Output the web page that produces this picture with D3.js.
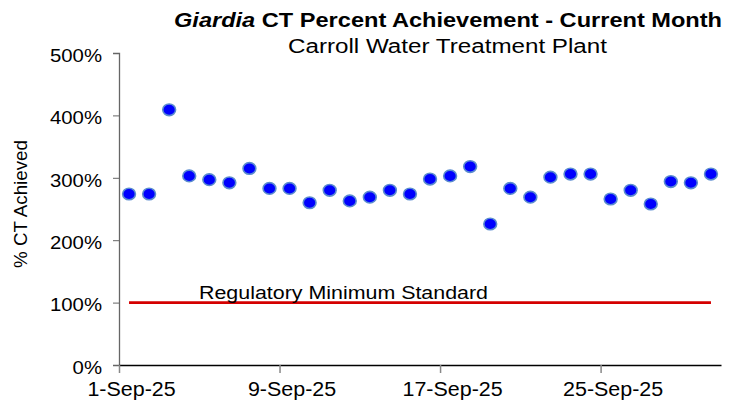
<!DOCTYPE html>
<html>
<head>
<meta charset="utf-8">
<script src="https://cdn.jsdelivr.net/npm/d3@7"></script>
<style>
  body { margin: 0; background: #fff; }
  svg { display: block; font-family: "Liberation Sans", Arial, sans-serif; }
</style>
</head>
<body>
<svg id="chart" width="739" height="402"></svg>
<script>
const dates = ["2025-09-01","2025-09-02","2025-09-03","2025-09-04","2025-09-05","2025-09-06","2025-09-07","2025-09-08","2025-09-09","2025-09-10",
  "2025-09-11","2025-09-12","2025-09-13","2025-09-14","2025-09-15","2025-09-16","2025-09-17","2025-09-18","2025-09-19","2025-09-20",
  "2025-09-21","2025-09-22","2025-09-23","2025-09-24","2025-09-25","2025-09-26","2025-09-27","2025-09-28","2025-09-29","2025-09-30"];
const ctPercent = [274, 274, 409, 303, 297, 292, 315, 283, 283, 260,
  280, 263, 269, 280, 274, 298, 303, 318, 226, 283,
  269, 301, 306, 306, 266, 280, 258, 294, 292, 306];
const regulatoryMinimum = 100;
const yTicks = [0, 100, 200, 300, 400, 500];
const xTickDates = ["2025-09-01","2025-09-09","2025-09-17","2025-09-25"];
const titleItalic = "Giardia";
const titleRest = " CT Percent Achievement - Current Month";
const subtitle = "Carroll Water Treatment Plant";
const yTitle = "% CT Achieved";
const refLabel = "Regulatory Minimum Standard";

const parse = d3.utcParse("%Y-%m-%d");
const svg = d3.select("#chart");

// horizontally widen text to match the reference's stretched rendering
function widen(sel, target) {
  sel.each(function () {
    const w = this.getComputedTextLength();
    const len = target > 5 ? target : w * target;
    d3.select(this).attr("textLength", len).attr("lengthAdjust", "spacingAndGlyphs");
  });
}

const x = d3.scaleUtc()
  .domain([parse("2025-09-01"), parse("2025-10-01")])
  .range([119, 721]);
const y = d3.scaleLinear().domain([0, 500]).range([365, 53]);
const mid = d => d3.utcHour.offset(parse(d), 12);

// title
const t = svg.append("text").attr("x", 448).attr("y", 27).attr("text-anchor", "middle")
  .attr("font-size", 20).attr("font-weight", "bold").attr("fill", "#000");
t.append("tspan").attr("font-style", "italic").text(titleItalic);
t.append("tspan").text(titleRest);
widen(t, 548);
const st = svg.append("text").attr("x", 447.5).attr("y", 53).attr("text-anchor", "middle")
  .attr("font-size", 19.5).attr("fill", "#000").text(subtitle);
widen(st, 319);

// y axis
const yAxis = svg.append("g").attr("transform", "translate(119,0)")
  .call(d3.axisLeft(y).tickValues(yTicks).tickSize(6).tickFormat(d => d + "%"));
yAxis.select(".domain").attr("stroke", "#666").attr("stroke-width", 1.3);
yAxis.selectAll(".tick line").attr("stroke", "#666");
yAxis.selectAll(".tick text").attr("font-size", 18.5).attr("fill", "#000")
  .attr("font-family", "Liberation Sans, Arial, sans-serif").attr("x", -17).attr("dy", "0.45em");
widen(yAxis.selectAll(".tick text"), 1.1);

// x axis
const xAxis = svg.append("g").attr("transform", "translate(0,365)")
  .call(d3.axisBottom(x).tickValues(xTickDates.map(parse)).tickSize(8).tickSizeOuter(0)
    .tickFormat(d3.utcFormat("%-d-%b-%y")));
xAxis.select(".domain").attr("stroke", "#000").attr("stroke-width", 1.3);
xAxis.selectAll(".tick line").attr("stroke", "#888").attr("stroke-width", 1.5);
xAxis.selectAll(".tick text").attr("font-size", 19.5).attr("fill", "#000")
  .attr("font-family", "Liberation Sans, Arial, sans-serif").attr("y", 17).attr("x", 12);
widen(xAxis.selectAll(".tick text"), 1.1);

// y title
const yt = svg.append("text").attr("transform", "translate(27,204) rotate(-90)")
  .attr("text-anchor", "middle").attr("font-size", 18.5).attr("fill", "#000").text(yTitle);
widen(yt, 128);

// reference line
svg.append("line")
  .attr("x1", x(mid(dates[0]))).attr("x2", x(mid(dates[dates.length - 1])))
  .attr("y1", y(regulatoryMinimum)).attr("y2", y(regulatoryMinimum))
  .attr("stroke", "#d40000").attr("stroke-width", 2.7);
const rl = svg.append("text").attr("x", 199).attr("y", y(regulatoryMinimum) - 3.5)
  .attr("font-size", 17.5).attr("fill", "#000").text(refLabel);
widen(rl, 289);

// points
svg.append("g").selectAll("ellipse").data(dates).join("ellipse")
  .attr("cx", d => x(mid(d)))
  .attr("cy", (d, i) => y(ctPercent[i]))
  .attr("rx", 6.4).attr("ry", 5.8)
  .attr("fill", "#0000ff").attr("stroke", "#5b8ccf").attr("stroke-width", 1.6);
</script>
</body>
</html>
